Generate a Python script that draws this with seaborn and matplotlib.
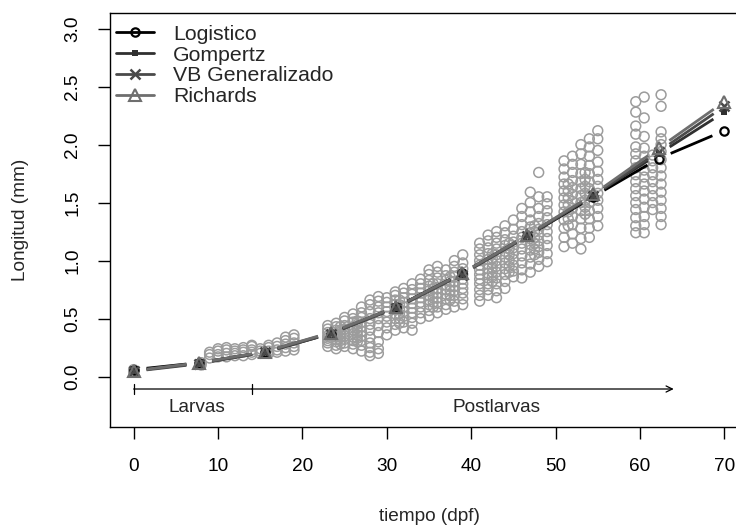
import numpy as np
import pandas as pd
import matplotlib
matplotlib.use('Agg')
import matplotlib.pyplot as plt
import seaborn as sns
from matplotlib.lines import Line2D

sns.set_style('white')
plt.rcParams['font.family'] = ['Liberation Sans', 'DejaVu Sans']

# Observaciones: dia de muestreo y longitudes medidas (mm)
dias_muestreo = [0, 8, 9, 10, 11, 12, 13, 14, 15, 16, 17, 18, 19,
                 23, 24, 24.5, 25, 26, 26.5, 27, 28, 29, 30, 31, 31.5, 32, 33, 34,
                 35, 35.5, 36, 37, 37.5, 38, 39,
                 41, 42, 42.5, 43, 44, 44.5, 45, 46, 47, 47.5, 48, 49,
                 51, 51.5, 52, 53, 53.5, 54, 55, 59.5, 60.5, 61.5, 62.5]
longitud_muestreo = [
    [0.04, 0.06],
    [0.10, 0.12],
    [0.16, 0.19, 0.21],
    [0.17, 0.19, 0.22, 0.24],
    [0.17, 0.20, 0.23, 0.25],
    [0.18, 0.20, 0.22, 0.24],
    [0.18, 0.21, 0.23, 0.25],
    [0.19, 0.21, 0.23, 0.26, 0.27],
    [0.20, 0.22, 0.24],
    [0.20, 0.22, 0.25, 0.27],
    [0.21, 0.23, 0.26, 0.29],
    [0.22, 0.25, 0.28, 0.31, 0.34],
    [0.23, 0.26, 0.29, 0.33, 0.36],
    [0.26, 0.29, 0.31, 0.33, 0.35, 0.38, 0.41, 0.44],
    [0.24, 0.27, 0.30, 0.32, 0.34, 0.37, 0.40, 0.43, 0.46],
    [0.28, 0.31, 0.34, 0.37, 0.40, 0.43],
    [0.26, 0.29, 0.32, 0.35, 0.38, 0.41, 0.44, 0.48, 0.51],
    [0.24, 0.28, 0.31, 0.34, 0.37, 0.40, 0.43, 0.47, 0.50, 0.54],
    [0.30, 0.33, 0.36, 0.39, 0.42, 0.45, 0.48],
    [0.22, 0.27, 0.31, 0.35, 0.39, 0.43, 0.47, 0.51, 0.55, 0.60],
    [0.18, 0.21, 0.25, 0.29, 0.34, 0.40, 0.45, 0.50, 0.56, 0.62, 0.66],
    [0.20, 0.24, 0.30, 0.38, 0.44, 0.50, 0.55, 0.60, 0.65, 0.69],
    [0.36, 0.42, 0.47, 0.52, 0.56, 0.60, 0.64, 0.68],
    [0.40, 0.45, 0.50, 0.54, 0.58, 0.62, 0.66, 0.70, 0.73],
    [0.46, 0.50, 0.54, 0.58, 0.62, 0.66],
    [0.42, 0.47, 0.52, 0.56, 0.60, 0.64, 0.68, 0.72, 0.76],
    [0.40, 0.46, 0.51, 0.55, 0.59, 0.63, 0.67, 0.71, 0.75, 0.80],
    [0.50, 0.55, 0.60, 0.64, 0.68, 0.72, 0.76, 0.80, 0.84],
    [0.52, 0.57, 0.62, 0.66, 0.70, 0.74, 0.78, 0.83, 0.88, 0.92],
    [0.60, 0.64, 0.68, 0.72, 0.76, 0.80],
    [0.55, 0.60, 0.64, 0.68, 0.72, 0.76, 0.80, 0.85, 0.90, 0.95],
    [0.58, 0.62, 0.67, 0.71, 0.75, 0.79, 0.83, 0.87, 0.92],
    [0.66, 0.70, 0.74, 0.78, 0.82, 0.86],
    [0.60, 0.65, 0.70, 0.74, 0.78, 0.82, 0.86, 0.90, 0.95, 1.00],
    [0.62, 0.67, 0.72, 0.76, 0.80, 0.84, 0.88, 0.93, 0.98, 1.05],
    [0.65, 0.70, 0.75, 0.80, 0.84, 0.88, 0.92, 0.96, 1.00, 1.05, 1.10, 1.15],
    [0.70, 0.75, 0.80, 0.85, 0.89, 0.93, 0.97, 1.01, 1.06, 1.11, 1.17, 1.22],
    [0.82, 0.86, 0.90, 0.94, 0.98, 1.02, 1.06],
    [0.68, 0.74, 0.80, 0.85, 0.90, 0.95, 1.00, 1.05, 1.10, 1.15, 1.20, 1.25],
    [0.76, 0.82, 0.88, 0.93, 0.98, 1.03, 1.08, 1.13, 1.18, 1.24, 1.30],
    [0.90, 0.95, 1.00, 1.05, 1.10, 1.15],
    [0.86, 0.91, 0.96, 1.01, 1.06, 1.11, 1.16, 1.21, 1.27, 1.35],
    [0.85, 0.92, 0.98, 1.04, 1.10, 1.15, 1.20, 1.25, 1.31, 1.38, 1.45],
    [0.90, 0.97, 1.03, 1.09, 1.14, 1.19, 1.24, 1.29, 1.35, 1.42, 1.50, 1.59],
    [1.05, 1.10, 1.15, 1.20, 1.25, 1.30],
    [0.95, 1.01, 1.07, 1.12, 1.17, 1.22, 1.27, 1.32, 1.38, 1.45, 1.55, 1.76],
    [0.99, 1.06, 1.13, 1.19, 1.25, 1.31, 1.37, 1.43, 1.49, 1.55],
    [1.12, 1.20, 1.28, 1.35, 1.42, 1.48, 1.54, 1.60, 1.66, 1.72, 1.79, 1.86],
    [1.30, 1.36, 1.42, 1.48, 1.54, 1.60, 1.66],
    [1.15, 1.23, 1.31, 1.38, 1.45, 1.51, 1.57, 1.63, 1.69, 1.76, 1.83, 1.90],
    [1.10, 1.19, 1.28, 1.36, 1.43, 1.50, 1.56, 1.62, 1.68, 1.75, 1.83, 1.92, 2.00],
    [1.40, 1.46, 1.52, 1.58, 1.64, 1.70, 1.76],
    [1.20, 1.28, 1.36, 1.43, 1.50, 1.56, 1.62, 1.68, 1.75, 1.82, 1.90, 1.98, 2.05],
    [1.30, 1.38, 1.45, 1.52, 1.58, 1.64, 1.70, 1.77, 1.85, 1.95, 2.05, 2.12],
    [1.24, 1.30, 1.37, 1.44, 1.50, 1.56, 1.62, 1.68, 1.74, 1.80, 1.86, 1.92, 1.98, 2.09, 2.16, 2.28, 2.37],
    [1.24, 1.31, 1.38, 1.46, 1.53, 1.60, 1.66, 1.72, 1.78, 1.84, 1.90, 1.97, 2.07, 2.23, 2.41],
    [1.44, 1.50, 1.56, 1.62, 1.68, 1.74, 1.80, 1.86, 1.91],
    [1.31, 1.38, 1.45, 1.52, 1.59, 1.66, 1.73, 1.80, 1.87, 1.94, 2.00, 2.05, 2.11, 2.33, 2.43],
]

# Curvas ajustadas evaluadas en 10 puntos entre 0 y 70 dpf
dias_modelo = [0, 7.78, 15.56, 23.33, 31.11, 38.89, 46.67, 54.44, 62.22, 70]
logistico = [0.06, 0.12, 0.21, 0.37, 0.60, 0.89, 1.21, 1.55, 1.88, 2.12]
gompertz = [0.05, 0.115, 0.215, 0.375, 0.60, 0.89, 1.22, 1.56, 1.92, 2.28]
vb_generalizado = [0.045, 0.11, 0.21, 0.37, 0.59, 0.88, 1.21, 1.56, 1.94, 2.33]
richards = [0.05, 0.12, 0.215, 0.38, 0.60, 0.89, 1.22, 1.57, 1.97, 2.37]

obs = pd.DataFrame({
    'dia': np.repeat(dias_muestreo, [len(v) for v in longitud_muestreo]),
    'longitud': np.concatenate(longitud_muestreo),
})

fig = plt.figure(figsize=(7.36, 5.31), dpi=100)
ax = fig.add_axes([110 / 736, 104.3 / 531, 638 / 736, 413.4 / 531])

sns.scatterplot(data=obs, x='dia', y='longitud', ax=ax, marker='o', s=50,
                facecolor='none', edgecolor='#9c9c9c', linewidth=1.1,
                legend=False, zorder=2)

ax.set_xlim(-2.8, 72.8)
ax.set_ylim(-0.432, 3.132)

modelos = [
    ('Logistico', logistico, 'black', dict(marker='o', ms=6, mfc='none', mew=1.6)),
    ('Gompertz', gompertz, '#303030', dict(marker='s', ms=4.5, mew=0)),
    ('VB Generalizado', vb_generalizado, '#4a4a4a', dict(marker='x', ms=7, mew=1.8)),
    ('Richards', richards, '#6e6e6e', dict(marker='^', ms=8, mfc='none', mew=1.5)),
]

# lineas tipo "b" (con hueco alrededor de cada punto)
gap = 13
handles = []
for nombre, vals, color, mk in modelos:
    pts = ax.transData.transform(np.column_stack([dias_modelo, vals]))
    for a, b in zip(pts[:-1], pts[1:]):
        d = b - a
        u = d / np.hypot(*d)
        seg = ax.transData.inverted().transform([a + u * gap, b - u * gap])
        ax.plot(seg[:, 0], seg[:, 1], color=color, lw=2, solid_capstyle='butt', zorder=3)
    ax.plot(dias_modelo, vals, ls='none', color=color, zorder=4, **mk)
    handles.append(Line2D([], [], color=color, lw=2, **mk))

ax.legend(handles, [m[0] for m in modelos], loc='upper left',
          bbox_to_anchor=(0.0094, 0.972), frameon=False, fontsize=15.3,
          handlelength=1.8, handletextpad=0.9, labelspacing=0.08,
          borderaxespad=0, borderpad=0)

# Etapas de desarrollo
y_flecha = -0.107
ax.annotate('', xy=(14, y_flecha), xytext=(0, y_flecha),
            arrowprops=dict(arrowstyle='|-|, widthA=0.35, widthB=0.35',
                            lw=0.9, color='black', shrinkA=0, shrinkB=0, mutation_scale=10))
ax.annotate('', xy=(64, y_flecha), xytext=(14, y_flecha),
            arrowprops=dict(arrowstyle='->, head_length=0.45, head_width=0.22',
                            lw=0.9, color='black', shrinkA=0, shrinkB=0, mutation_scale=10))
ax.text(7.5, -0.266, 'Larvas', ha='center', va='center', fontsize=13.7)
ax.text(43, -0.266, 'Postlarvas', ha='center', va='center', fontsize=13.7)

ax.set_xticks(range(0, 71, 10))
ax.set_yticks([0, 0.5, 1.0, 1.5, 2.0, 2.5, 3.0])
ax.set_yticklabels([f'{v:.1f}' for v in [0, 0.5, 1.0, 1.5, 2.0, 2.5, 3.0]],
                   rotation=90, va='center')
ax.tick_params(axis='both', direction='out', length=8.6, width=1, labelsize=13.7,
               color='black', labelcolor='black', bottom=True, left=True)
ax.tick_params(axis='x', pad=13.7)
ax.tick_params(axis='y', pad=12.2)

ax.set_xlabel('tiempo (dpf)', fontsize=13.7)
ax.set_ylabel('Longitud (mm)', fontsize=13.7)
ax.xaxis.set_label_coords(0.5, -0.1967)
ax.yaxis.set_label_coords(-0.127, 0.5)

for side in ['left', 'bottom', 'top']:
    ax.spines[side].set_color('black')
    ax.spines[side].set_linewidth(1)
ax.spines['right'].set_visible(False)

fig.savefig('out.png', dpi=100)
